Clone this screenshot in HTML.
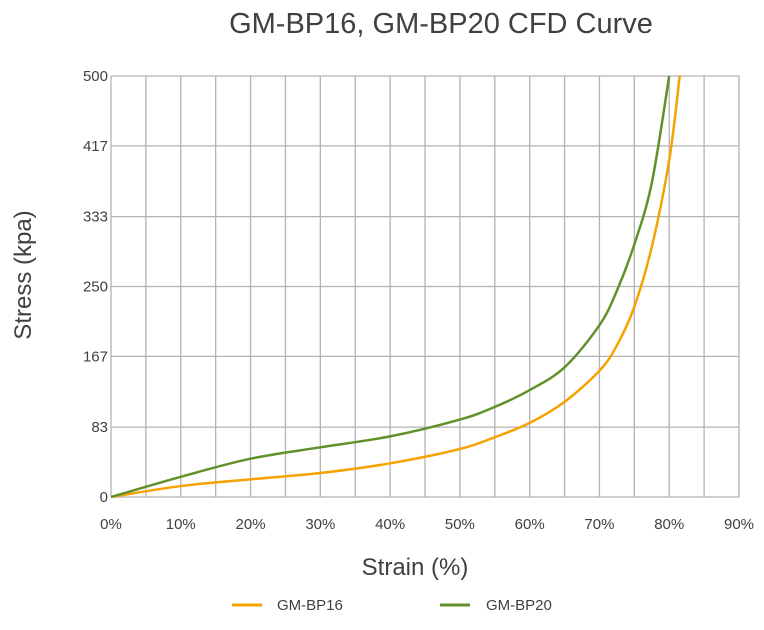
<!DOCTYPE html>
<html><head><meta charset="utf-8"><style>
body{margin:0;background:#fff;}
svg text{font-family:"Liberation Sans",sans-serif;fill:#404040;}
</style></head><body>
<svg id="chart" width="764" height="625" xmlns="http://www.w3.org/2000/svg">
<text x="441" y="33" text-anchor="middle" font-size="29">GM-BP16, GM-BP20 CFD Curve</text>
<g id="grid"></g>
<g id="yticks"></g>
<g id="xticks"></g>
<text transform="translate(31,275) rotate(-90)" text-anchor="middle" font-size="24">Stress (kpa)</text>
<text x="415" y="575" text-anchor="middle" font-size="24">Strain (%)</text>
<g id="series"></g>
<g>
<line x1="232" y1="605" x2="262" y2="605" stroke="#f5a300" stroke-width="3"/>
<text x="277" y="610" font-size="15">GM-BP16</text>
<line x1="440" y1="605" x2="470" y2="605" stroke="#62902a" stroke-width="3"/>
<text x="486" y="610" font-size="15">GM-BP20</text>
</g>
</svg>
<script>
const yTicks=[0,83,167,250,333,417,500];
const xTickLabels=["0%","10%","20%","30%","40%","50%","60%","70%","80%","90%"];
const bp16X=[0,10,20,30,40,50,55,60,65,70,72.5,75,77.5,80,81.5];
const bp16Y=[0,13,21,28.5,40,57,71,88,113,150,180,226,297,400,500];
const bp20X=[0,10,20,30,40,50,55,60,65,70,72.5,75,77.5,80];
const bp20Y=[0,24,45.5,59,72,92,107,127,154,204,245,300,373,500];
const L=111,R=739,T=76,B=497;
const xs=v=>L+(v/90)*(R-L);
const ys=v=>B-(v/500)*(B-T);
const NS="http://www.w3.org/2000/svg";
function mk(tag,attrs,parent){const e=document.createElementNS(NS,tag);for(const k in attrs)e.setAttribute(k,attrs[k]);parent.appendChild(e);return e;}
const grid=document.getElementById('grid');
for(let p=0;p<=90;p+=5){const l=mk('line',{x1:xs(p),x2:xs(p),y1:T,y2:B,stroke:'#b3b3b3','stroke-width':1.3},grid);

}
yTicks.forEach(t=>{const l=mk('line',{x1:L,x2:R,y1:ys(t),y2:ys(t),stroke:'#b3b3b3','stroke-width':1.3},grid);


const tx=mk('text',{x:L-3,y:ys(t)+5,'text-anchor':'end','font-size':15},document.getElementById('yticks'));


tx.textContent=t;});
xTickLabels.forEach((s,i)=>{const tx=mk('text',{x:xs(i*10),y:529,'text-anchor':'middle','font-size':15},document.getElementById('xticks'));


tx.textContent=s;});
function pathFor(X,Y){const P=X.map((x,i)=>[xs(x),ys(Y[i])]);let d='M'+P[0][0]+','+P[0][1];
for(let i=0;i<P.length-1;i++){const p0=P[Math.max(0,i-1)],p1=P[i],p2=P[i+1],p3=P[Math.min(P.length-1,i+2)];
const c1=[p1[0]+(p2[0]-p0[0])/6,p1[1]+(p2[1]-p0[1])/6],c2=[p2[0]-(p3[0]-p1[0])/6,p2[1]-(p3[1]-p1[1])/6];
d+=' C'+c1+' '+c2+' '+p2;}return d;}
const sg=document.getElementById('series');
const a=mk('path',{d:pathFor(bp16X,bp16Y),fill:'none',stroke:'#f5a300','stroke-width':2.5},sg);


const b=mk('path',{d:pathFor(bp20X,bp20Y),fill:'none',stroke:'#62902a','stroke-width':2.5},sg);


</script>
</body></html>
